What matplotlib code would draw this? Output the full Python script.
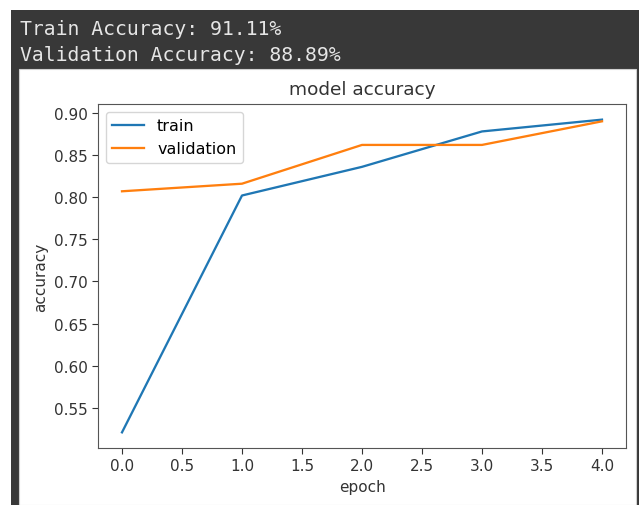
import matplotlib
matplotlib.use("Agg")
import matplotlib.pyplot as plt
from matplotlib.patches import Rectangle

epochs = [0, 1, 2, 3, 4]
train_acc = [0.521, 0.802, 0.836, 0.878, 0.892]
val_acc = [0.807, 0.816, 0.862, 0.862, 0.890]
header_lines = ["Train Accuracy: 91.11%", "Validation Accuracy: 88.89%"]

W, H = 639, 506
fig = plt.figure(figsize=(W / 100, H / 100), dpi=100)
fig.patch.set_facecolor("white")

def px(x0, y0, x1, y1):
    return (x0 / W, 1 - y1 / H, (x1 - x0) / W, (y1 - y0) / H)

# dark output cell background
x, y, w, h = px(11, 11, 639, 506)
fig.patches.append(Rectangle((x, y), w, h, transform=fig.transFigure,
                             facecolor="#383838", edgecolor="none", zorder=-2))
# white image panel
x, y, w, h = px(19, 70, 636, 506)
fig.patches.append(Rectangle((x, y), w, h, transform=fig.transFigure,
                             facecolor="white", edgecolor="#d0d0d0", lw=0.8, zorder=-1))

for i, line in enumerate(header_lines):
    fig.text(19.5 / W, 1 - (35 + 26 * i) / H, line, family="DejaVu Sans Mono",
             fontsize=14.2, color="#e6e6e6", va="baseline", ha="left")

ax = fig.add_axes([98 / W, 1 - 449 / H, (626 - 98) / W, (449 - 105) / H])
ax.set_zorder(5)
ax.plot(epochs, train_acc, color="#1f77b4", lw=1.65, label="train")
ax.plot(epochs, val_acc, color="#ff7f0e", lw=1.65, label="validation")
ax.set_title("model accuracy", fontsize=13.3, color="#333333", pad=7)
ax.set_xlabel("epoch", fontsize=11, color="#333333")
ax.set_ylabel("accuracy", fontsize=11, color="#333333")
ax.tick_params(labelsize=11, length=4, colors="#333333")
for s in ax.spines.values():
    s.set_color("#555555")
ax.legend(loc="upper left", fontsize=11.5)

fig.savefig("out.png", dpi=100, facecolor=fig.get_facecolor())
